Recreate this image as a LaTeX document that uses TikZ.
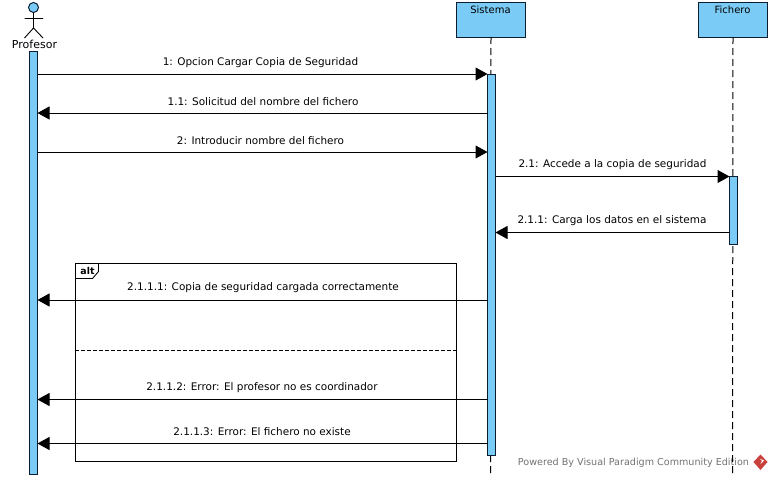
\documentclass[tikz,border=0pt]{standalone}
\usepackage{fontspec}
\setmainfont{DejaVu Sans}
\usetikzlibrary{arrows.meta}
\definecolor{vpblue}{HTML}{7ACBF5}
\definecolor{vpline}{HTML}{0A1E32}
\definecolor{vpred}{HTML}{C8403C}
\tikzset{
  every picture/.style={x=1pt,y=-1pt},
  lifehead/.style={draw=vpline,fill=vpblue,line width=1pt,minimum width=69pt,minimum height=34.5pt,inner sep=0pt,outer sep=0pt,anchor=north west},
  headtext/.style={font=\fontsize{10}{12}\selectfont,text=black,inner sep=0pt},
  activation/.style={draw=vpline,fill=vpblue,line width=1pt,minimum width=8pt,inner sep=0pt,outer sep=0pt,anchor=north west},
  lifeline/.style={draw=black,line width=1pt,dash pattern=on 7pt off 4pt},
  msg/.style={draw=black,line width=1pt,-{Triangle[length=12pt,width=13pt,fill=black]}},
  msgtext/.style={font=\fontsize{10.45}{12}\selectfont,text=black,inner sep=0pt},
  frameline/.style={draw=black,line width=0.9pt},
}
\begin{document}
\begin{tikzpicture}
\useasboundingbox (0,0) rectangle (772,479);
\fill[white] (0,0) rectangle (772,479);
% watermark
\node[font=\fontsize{9.6}{12}\selectfont,text=black!55,inner sep=0pt] (wm) at (633.5,462.5) {Powered By Visual Paradigm Community Edition};
\fill[vpred] (760.5,454.5) -- (767.5,462) -- (760.5,470) -- (753.5,462) -- cycle;
\fill[white] (759.5,458.5) -- (764,460.5) -- (760.5,464) -- (762,460.8) -- cycle;
% heads
\node[lifehead] (sis) at (456.5,2.5) {};
\node[lifehead] (fic) at (698.5,2.5) {};
\node[headtext] (sist) at (490.5,9.5) {Sistema};
\node[headtext] (fict) at (732.5,9.5) {Fichero};
% lifelines
\coordinate (sisend) at (490.5,474);
\coordinate (ficend) at (732.5,474);
\draw[lifeline] (sis.south) -- (sisend);
\draw[lifeline] (fic.south) -- (ficend);
% actor
\node[circle,draw=vpline,fill=vpblue,line width=1pt,minimum size=10pt,inner sep=0pt,outer sep=0pt] (head) at (33.5,7.5) {};
\coordinate (hip) at (33.5,28);
\coordinate (larm) at (24.5,18.5);
\coordinate (rarm) at (43,18.5);
\coordinate (lleg) at (24.5,38);
\coordinate (rleg) at (43,38);
\draw[black,line width=0.9pt] (head.south) -- (hip) (larm) -- (rarm) (lleg) -- (hip) -- (rleg);
\node[font=\fontsize{11}{12}\selectfont,text=black,inner sep=0pt] (prof) at (34.5,44.5) {Profesor};
% activations
\node[activation,minimum height=422.5pt] (ap) at (29.5,51.5) {};
\node[activation,minimum height=380.5pt] (as) at (487.5,74.5) {};
\node[activation,minimum height=68pt] (af) at (729.5,176.5) {};
% frame
\node[frameline,minimum width=381.5pt,minimum height=197.5pt,inner sep=0pt,outer sep=0pt,anchor=north west,draw] (alt) at (75,263.5) {};
\coordinate (t1) at (98.5,263.5);
\coordinate (t2) at (98.5,271.5);
\coordinate (t3) at (92.5,278.5);
\coordinate (t4) at (75,278.5);
\draw[frameline] (t1) -- (t2) -- (t3) -- (t4);
\node[font=\bfseries\fontsize{9.4}{12}\selectfont,inner sep=0pt] (altt) at (87.5,270.5) {alt};
\draw[frameline,dash pattern=on 4pt off 2pt] (alt.west |- 0,350.5) -- (alt.east |- 0,350.5);
% messages
\draw[msg] (ap.east |- 0,74) -- (as.west |- 0,74);
\draw[msg] (as.west |- 0,113) -- (ap.east |- 0,113);
\draw[msg] (ap.east |- 0,152) -- (as.west |- 0,152);
\draw[msg] (as.east |- 0,176.5) -- (af.west |- 0,176.5);
\draw[msg] (af.west |- 0,232.5) -- (as.east |- 0,232.5);
\draw[msg] (as.west |- 0,300) -- (ap.east |- 0,300);
\draw[msg] (as.west |- 0,399.5) -- (ap.east |- 0,399.5);
\draw[msg] (as.west |- 0,443.5) -- (ap.east |- 0,443.5);
% labels
\node[msgtext] (l1) at (260.5,62.5) {1: Opcion Cargar Copia de Seguridad};
\node[msgtext] (l2) at (263,101.5) {1.1: Solicitud del nombre del fichero};
\node[msgtext] (l3) at (260.5,140.5) {2: Introducir nombre del fichero};
\node[msgtext] (l4) at (612.5,164.5) {2.1: Accede a la copia de seguridad};
\node[msgtext] (l5) at (612,220.5) {2.1.1: Carga los datos en el sistema};
\node[msgtext] (l6) at (263,287.5) {2.1.1.1: Copia de seguridad cargada correctamente};
\node[msgtext] (l7) at (262,387.5) {2.1.1.2: Error: El profesor no es coordinador};
\node[msgtext] (l8) at (262,431.5) {2.1.1.3: Error: El fichero no existe};
\end{tikzpicture}
\end{document}
